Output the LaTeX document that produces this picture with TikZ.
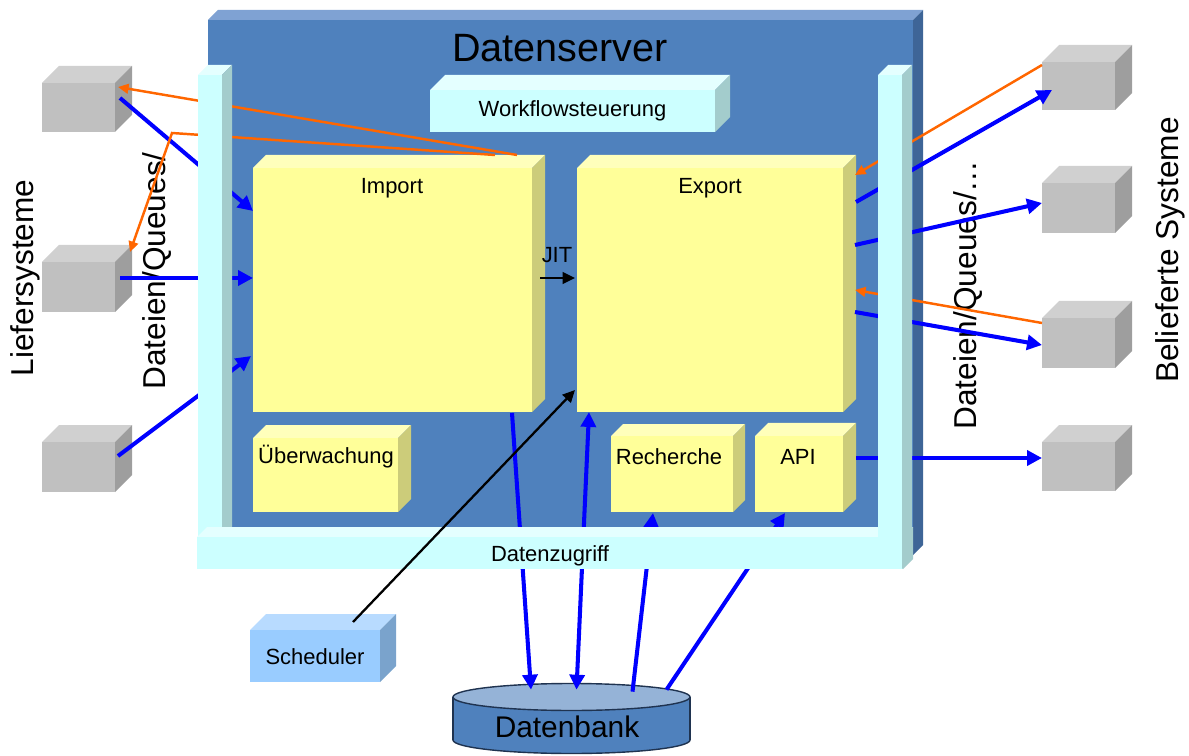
\documentclass[tikz,border=0pt]{standalone}
\usepackage{fontspec}
\setmainfont{Liberation Sans}
\usetikzlibrary{arrows.meta,calc}
\definecolor{srvfront}{HTML}{4F81BD}
\definecolor{srvtop}{HTML}{7FA2D3}
\definecolor{srvside}{HTML}{3E6597}
\definecolor{yefront}{HTML}{FFFF99}
\definecolor{yetop}{HTML}{FFFFBB}
\definecolor{yeside}{HTML}{CCCC7A}
\definecolor{cyfront}{HTML}{CCFFFF}
\definecolor{cytop}{HTML}{E4FFFF}
\definecolor{cyside}{HTML}{A3CCCC}
\definecolor{grfront}{HTML}{C0C0C0}
\definecolor{grtop}{HTML}{D0D0D0}
\definecolor{grside}{HTML}{9E9E9E}
\definecolor{scfront}{HTML}{99CCFF}
\definecolor{sctop}{HTML}{B8DBFF}
\definecolor{scside}{HTML}{7AA3CC}
\definecolor{dbbody}{HTML}{4F81BD}
\definecolor{dbtop}{HTML}{95B3D7}
\definecolor{dbline}{HTML}{1F3350}
\definecolor{arrblue}{HTML}{0000FF}
\definecolor{arrorange}{HTML}{FF6600}
\newcommand{\cuboid}[9]{%
  \fill[#8] (#2,#3) -- (#2+#6,#3-#6) -- (#4+#6,#3-#6) -- (#4,#3) -- cycle;
  \fill[#9] (#4,#3) -- (#4+#6,#3-#6) -- (#4+#6,#5-#6) -- (#4,#5) -- cycle;
  \node[fill=#7, inner sep=0pt, outer sep=0pt, minimum width={(#4-#2)*0.02cm}, minimum height={(#5-#3)*0.02cm}, anchor=north west] (#1) at (#2,#3) {};
}
\begin{document}
\begin{tikzpicture}[x=0.02cm,y=-0.02cm,
  bluearr/.style={draw=arrblue, line width=2.3pt, -{Triangle[length=8.5pt,width=8.5pt]}},
  bluedbl/.style={draw=arrblue, line width=2.3pt, {Triangle[length=8.5pt,width=8.5pt]}-{Triangle[length=8.5pt,width=8.5pt]}},
  orangearr/.style={draw=arrorange, line width=1.4pt, -{Triangle[length=6pt,width=5.5pt]}},
  blackarr/.style={draw=black, line width=1.3pt, -{Triangle[length=7pt,width=6.5pt]}},
  lbl/.style={font=\fontsize{12.5}{15}\selectfont, inner sep=0pt},
  sidelbl/.style={font=\fontsize{18}{21}\selectfont, rotate=90, inner sep=0pt}]
\useasboundingbox (0,0) rectangle (1189,756);

% server
\cuboid{srv}{208}{20}{913}{555}{10}{srvfront}{srvtop}{srvside}
\node[font=\fontsize{22.5}{26}\selectfont, inner sep=0pt] (srvlbl) at (560,48) {Datenserver};

% inner boxes
\cuboid{wf}{430}{90}{715}{132}{15}{cyfront}{cytop}{cyside}
\node[lbl] (wflbl) at (wf.center) {Workflowsteuerung};
\cuboid{imp}{253}{168}{532}{412}{13}{yefront}{yetop}{yeside}
\node[lbl] (implbl) at (392,188) {Import};
\cuboid{exp}{577}{168}{843}{412}{13}{yefront}{yetop}{yeside}
\node[lbl] (explbl) at (710,188) {Export};
\cuboid{ueb}{253}{438}{398}{512}{13}{yefront}{yetop}{yeside}
\node[lbl] (ueblbl) at (326,457) {Überwachung};
\cuboid{rec}{611}{436}{733}{512}{12}{yefront}{yetop}{yeside}
\node[lbl] (reclbl) at (669,457) {Recherche};
\cuboid{api}{755}{436}{843}{512}{13}{yefront}{yetop}{yeside}
\node[lbl] (apilbl) at (798,457) {API};
\node[lbl] (jit) at (557,255) {JIT};

% outer systems
\cuboid{lb1}{42}{83}{115}{132}{17}{grfront}{grtop}{grside}
\cuboid{lb2}{42}{262}{115}{312}{17}{grfront}{grtop}{grside}
\cuboid{lb3}{42}{442}{115}{492}{17}{grfront}{grtop}{grside}
\cuboid{rb1}{1042}{62}{1115}{110}{17}{grfront}{grtop}{grside}
\cuboid{rb2}{1042}{183}{1115}{233}{17}{grfront}{grtop}{grside}
\cuboid{rb3}{1042}{318}{1115}{368}{17}{grfront}{grtop}{grside}
\cuboid{rb4}{1042}{442}{1115}{491}{17}{grfront}{grtop}{grside}

% scheduler
\cuboid{sch}{250}{630}{380}{682}{16}{scfront}{sctop}{scside}
\node[lbl] (schlbl) at (315,657) {Scheduler};

% database
\filldraw[fill=dbbody, draw=dbline, line width=0.8pt] (571.5,740) ellipse [x radius=118.5, y radius=13.5];
\fill[dbbody] (453,697) rectangle (690,740);
\draw[dbline, line width=0.8pt] (453,697) -- (453,740) (690,697) -- (690,740);
\filldraw[fill=dbtop, draw=dbline, line width=0.8pt] (571.5,697) ellipse [x radius=118.5, y radius=13.5];
\node[inner sep=0pt, minimum width={237*0.02cm}, minimum height={43*0.02cm}] (db) at (571.5,718.5) {};
\node[font=\fontsize{17}{20}\selectfont, inner sep=0pt] (dblbl) at (567,727) {Datenbank};

% side labels
\node[sidelbl] (lief) at (25,278) {Liefersysteme};
\node[sidelbl] (lq) at (157,271) {Dateien/Queues/};
\node[sidelbl] (rq) at (968,295) {Dateien/Queues/\dots};
\node[sidelbl] (bel) at (1170,250) {Belieferte Systeme};

% connectors (under the columns)
\draw[bluearr] ($(lb1.north east)+(5,15)$) -- ($(imp.north west)+(0,43)$);
\draw[bluearr] ($(lb2.north east)+(5,16)$) -- ($(imp.north west)+(0,110)$);
\draw[bluearr] ($(lb3.north east)+(3,14)$) -- ($(imp.north west)+(-2,188)$);
\draw[orangearr] ($(imp.north west)+(264,-13)$) -- ($(lb1.north east)+(3,4)$);
\coordinate (obend) at ($(lb1.north east)+(57,50)$);
\draw[orangearr] ($(imp.north west)+(242,-13)$) -- (obend) -- ($(lb2.north east)+(15,-10)$);

\draw[bluearr] ($(exp.north east)+(13,34)$) -- ($(rb1.north west)+(10,28)$);
\draw[bluearr] ($(exp.north east)+(12,77)$) -- ($(rb2.north west)+(0,20)$);
\draw[bluearr] ($(exp.north east)+(12,144)$) -- ($(rb3.north west)+(0,27)$);
\draw[bluearr] ($(api.north east)+(13,22)$) -- ($(rb4.north west)+(0,16)$);
\draw[orangearr] ($(rb1.north west)+(0,3)$) -- ($(exp.north east)+(12,7)$);
\draw[orangearr] ($(rb3.north west)+(0,5)$) -- ($(exp.north east)+(12,122)$);

\draw[bluearr] ($(imp.south east)+(-20,1)$) -- ($(db.north)+(-40.5,-7)$);
\draw[bluedbl] ($(exp.south west)+(12,0)$) -- ($(db.north)+(5,-7)$);
\draw[bluearr] ($(db.north)+(61,-5)$) -- ($(rec.south west)+(42,1)$);
\draw[bluearr] ($(db.north)+(95,-7)$) -- ($(api.south west)+(30,1)$);

% columns and data access bar
\cuboid{lcol}{198}{75}{222}{537}{10}{cyfront}{cytop}{cyside}
\cuboid{bar}{197}{537}{903}{569}{10}{cyfront}{cytop}{cyside}
\cuboid{rcol}{878}{75}{902}{569}{10}{cyfront}{cytop}{cyside}
\node[lbl] (barlbl) at (550,556) {Datenzugriff};

% black arrows
\draw[blackarr] ($(sch.north west)+(103,-8)$) -- ($(exp.south west)+(-2,-22)$);
\draw[blackarr] ($(imp.east)+(8,-12)$) -- ($(exp.west)+(-2,-12)$);
\end{tikzpicture}
\end{document}
